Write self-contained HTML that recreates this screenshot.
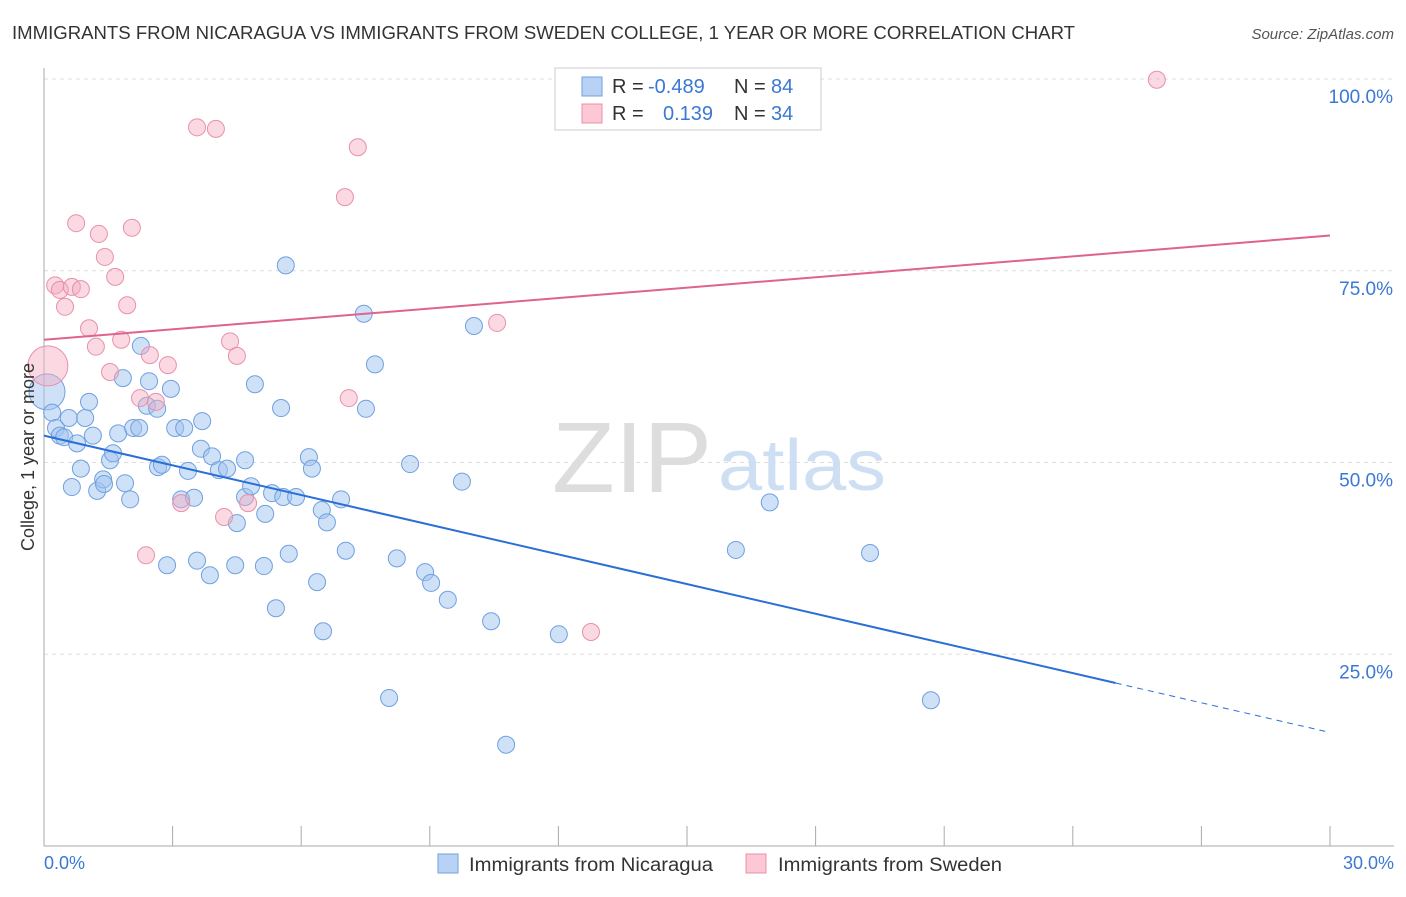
<!DOCTYPE html>
<html><head><meta charset="utf-8"><style>
body{margin:0;background:#fff;font-family:"Liberation Sans",sans-serif;}
svg text{font-family:"Liberation Sans",sans-serif;}
</style></head><body>
<svg id="chart" width="1406" height="892">
<text x="12" y="39" font-size="18" fill="#333" textLength="1063" lengthAdjust="spacingAndGlyphs">IMMIGRANTS FROM NICARAGUA VS IMMIGRANTS FROM SWEDEN COLLEGE, 1 YEAR OR MORE CORRELATION CHART</text>
<text x="1394" y="39" font-size="15" fill="#555" font-style="italic" text-anchor="end">Source: ZipAtlas.com</text>
<g id="grid"></g>
<text x="552" y="492" font-size="100" fill="#ddd" font-family="Liberation Serif" textLength="160" lengthAdjust="spacingAndGlyphs">ZIP</text>
<text x="718" y="490" font-size="72" fill="#cfdff3" textLength="168" lengthAdjust="spacingAndGlyphs">atlas</text>
<g id="marks"></g>
<text transform="translate(34,457) rotate(-90)" font-size="18" fill="#333" text-anchor="middle">College, 1 year or more</text>
<text x="44" y="869" font-size="18" fill="#3a78d4">0.0%</text>
<text x="1394" y="869" font-size="18" fill="#3a78d4" text-anchor="end">30.0%</text>
<g>
<rect x="555" y="68" width="266" height="62" fill="#fff" stroke="#ccc"/>
<rect x="582" y="77" width="20" height="19" fill="#b8d2f5" stroke="#6fa0e0"/>
<rect x="582" y="104" width="20" height="19" fill="#fcc8d6" stroke="#e890aa"/>
<text x="612" y="93" font-size="20" fill="#333">R = <tspan x="648" fill="#3a78d4">-0.489</tspan><tspan x="734">N = </tspan><tspan x="771" fill="#3a78d4">84</tspan></text>
<text x="612" y="120" font-size="20" fill="#333">R = <tspan x="663" fill="#3a78d4">0.139</tspan><tspan x="734">N = </tspan><tspan x="771" fill="#3a78d4">34</tspan></text>
</g>
<g>
<rect x="438" y="854" width="20" height="19" fill="#b8d2f5" stroke="#6fa0e0"/>
<text x="469" y="871" font-size="19" fill="#333" textLength="244" lengthAdjust="spacingAndGlyphs">Immigrants from Nicaragua</text>
<rect x="746" y="854" width="20" height="19" fill="#fcc8d6" stroke="#e890aa"/>
<text x="778" y="871" font-size="19" fill="#333" textLength="224" lengthAdjust="spacingAndGlyphs">Immigrants from Sweden</text>
</g>
</svg>
<script>
const blueX=[0.07,0.19,0.28,0.37,0.47,0.58,0.77,0.86,0.65,0.96,1.05,1.14,1.24,1.38,1.40,1.54,1.61,1.73,1.84,1.89,2.01,2.08,2.22,2.26,2.45,2.40,2.64,2.66,2.75,2.87,2.96,3.06,3.20,3.27,3.36,3.50,3.57,3.69,3.66,3.87,3.92,4.08,4.27,4.46,4.50,4.69,4.69,4.83,4.92,5.13,5.16,5.32,5.41,5.53,5.58,5.64,5.71,5.88,6.18,6.25,6.37,6.48,6.51,6.60,6.93,7.04,7.46,7.51,7.72,8.23,8.54,8.89,9.03,9.42,9.75,10.03,10.43,10.78,12.01,16.14,16.93,19.27,20.69,8.05];
const blueY=[59.2,56.5,54.5,53.5,53.3,55.8,52.5,49.2,46.8,55.8,57.9,53.5,46.3,47.8,47.2,50.3,51.2,53.8,61.0,47.3,45.2,54.5,54.5,65.2,60.6,57.4,57.0,49.4,49.7,36.6,59.6,54.5,45.2,54.5,48.9,45.4,37.2,55.4,51.8,35.3,50.8,49.0,49.2,36.6,42.1,45.5,50.3,46.9,60.2,36.5,43.3,46.0,31.0,57.1,45.5,75.7,38.1,45.5,50.7,49.2,34.4,43.8,28.0,42.2,45.2,38.5,69.4,57.0,62.8,37.5,49.8,35.7,34.3,32.1,47.5,67.8,29.3,13.2,27.6,38.6,44.8,38.2,19.0,19.3];
const pinkX=[0.09,0.26,0.37,0.49,0.65,0.86,0.75,1.05,1.21,1.28,1.42,1.54,1.66,1.80,1.94,2.05,2.24,2.38,2.47,2.61,2.89,3.20,3.57,4.01,4.20,4.34,4.50,4.76,7.02,7.11,7.32,10.57,12.76,25.96];
const pinkY=[62.6,73.1,72.5,70.3,72.9,72.6,81.2,67.5,65.1,79.8,76.8,61.8,74.2,66.0,70.5,80.6,58.4,37.9,64.0,57.9,62.7,44.7,93.7,93.5,42.9,65.8,63.9,44.7,84.6,58.4,91.1,68.2,27.9,99.9];
const blueTrend=[53.5,-1.29];
const pinkTrend=[66.0,0.453];
const yTicks=[25,50,75,100];
const xTicks=[0,3,6,9,12,15,18,21,24,27,30];
const NS='http://www.w3.org/2000/svg';
const sx=v=>44+v/30*1286;
const sy=v=>846-v*7.67;
function mk(tag,attrs,parent){const e=document.createElementNS(NS,tag);for(const k in attrs)e.setAttribute(k,attrs[k]);parent.appendChild(e);return e;}
const grid=document.getElementById('grid');
const marks=document.getElementById('marks');
yTicks.forEach(t=>{
  const l=mk('line',{x1:44,x2:1394,y1:sy(t),y2:sy(t),stroke:'#ddd','stroke-dasharray':'4,4'},grid);
  
  
  const tx=mk('text',{x:1393,y:sy(t)+24,'font-size':19,fill:'#3a78d4','text-anchor':'end'},grid);
  tx.textContent=t.toFixed(1)+'%';
  
  
});
mk('line',{x1:44,x2:44,y1:68,y2:846,stroke:'#aaa'},grid);
mk('line',{x1:44,x2:1394,y1:846,y2:846,stroke:'#aaa'},grid);
xTicks.forEach(t=>{
  const l=mk('line',{x1:sx(t),x2:sx(t),y1:826,y2:846,stroke:'#aaa'},grid);
  
  
});
function dot(x,y,i,pink){
  const big=i===0;
  const c=mk('circle',{cx:sx(x),cy:sy(y),r:big?(pink?20:18):8.5,fill:pink?'rgba(245,170,192,0.45)':'rgba(160,195,240,0.5)',stroke:pink?'#e890aa':'#6fa0e0','stroke-width':1},marks);
  
  
}
blueX.forEach((x,i)=>dot(x,blueY[i],i,false));
pinkX.forEach((x,i)=>dot(x,pinkY[i],i,true));
const bEnd=25;
const bl=mk('line',{x1:sx(0),y1:sy(blueTrend[0]),x2:sx(bEnd),y2:sy(blueTrend[0]+blueTrend[1]*bEnd),stroke:'#2a6fd6','stroke-width':2},marks);


const bd=mk('line',{x1:sx(bEnd),y1:sy(blueTrend[0]+blueTrend[1]*bEnd),x2:sx(30),y2:sy(blueTrend[0]+blueTrend[1]*30),stroke:'#2a6fd6','stroke-width':1,'stroke-dasharray':'6,5'},marks);


const pl=mk('line',{x1:sx(0),y1:sy(pinkTrend[0]),x2:sx(30),y2:sy(pinkTrend[0]+pinkTrend[1]*30),stroke:'#e0628e','stroke-width':2},marks);


</script>
</body></html>
